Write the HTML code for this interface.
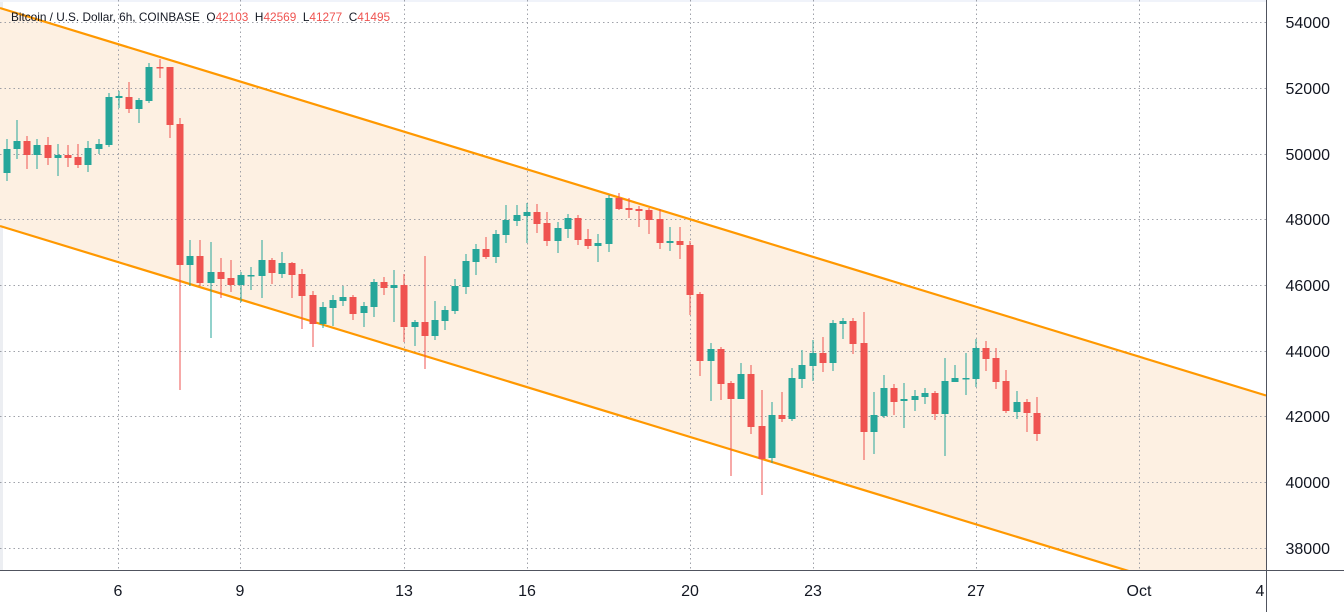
<!DOCTYPE html>
<html><head><meta charset="utf-8"><style>
html,body{margin:0;padding:0;background:#fff;}
svg{display:block;font-family:"Liberation Sans",sans-serif;}
</style></head><body>
<svg id="s" width="1344" height="612" viewBox="0 0 1344 612" xmlns="http://www.w3.org/2000/svg">
<defs><clipPath id="c"><rect x="0" y="0" width="1266" height="570"/></clipPath></defs>
<rect x="0" y="0" width="1344" height="612" fill="#fff"/>
<rect x="0" y="0" width="3" height="570" fill="#eceef2"/>
<rect x="0" y="0" width="1266" height="2" fill="#f0f3fa"/>
<g clip-path="url(#c)">
<polygon points="0,8 1266,395.5 1266,570 1125,570 0,226" fill="#fdf0e2"/>
<g id="grid" stroke="#9598a1" stroke-width="1" stroke-dasharray="1.5,3" opacity="0.9"></g>
<line x1="0" y1="8" x2="1266" y2="395.5" stroke="#ff9800" stroke-width="2.2"/>
<line x1="0" y1="226" x2="1266" y2="613" stroke="#ff9800" stroke-width="2.2"/>
<g id="candles"></g>
</g>
<line x1="1266.5" y1="0" x2="1266.5" y2="612" stroke="#50535e" stroke-width="1"/>
<line x1="0" y1="570.5" x2="1344" y2="570.5" stroke="#50535e" stroke-width="1"/>
<g id="labels" font-size="16" fill="#131722"></g>
<text x="11" y="21" font-size="11.8" fill="#131722" style="white-space:pre" xml:space="preserve">Bitcoin / U.S. Dollar, 6h, COINBASE  O<tspan fill="#ef5350">42103</tspan>  H<tspan fill="#ef5350">42569</tspan>  L<tspan fill="#ef5350">41277</tspan>  C<tspan fill="#ef5350">41495</tspan></text>
</svg>
<script>
var ns="http://www.w3.org/2000/svg";
function el(p,t,a,txt){var e=document.createElementNS(ns,t);for(var k in a)e.setAttribute(k,a[k]);if(txt)e.textContent=txt;p.appendChild(e);return e;}
var g=document.getElementById("grid"),L=document.getElementById("labels");
var ys=[22,88,154,219,285,351,416,482,548],pr=[54000,52000,50000,48000,46000,44000,42000,40000,38000];
ys.forEach(function(y,i){el(g,"line",{x1:0,y1:y+.5,x2:1266,y2:y+.5});el(L,"text",{x:1330,y:y+6,"text-anchor":"end"},String(pr[i]));});
var xs=[118,240,404,527,690,813,976,1139],xl=["6","9","13","16","20","23","27","Oct"];
xs.forEach(function(x,i){el(g,"line",{x1:x+.5,y1:0,x2:x+.5,y2:570});el(L,"text",{x:x,y:596,"text-anchor":"middle"},xl[i]);});
el(L,"text",{x:1260,y:596,"text-anchor":"middle"},"4");
var d=[[173,149,139,181],[149,141,120,159],[141,155,136,169],[155,145,139,169],[145,158,137,165],[158,155,144,176],[155,158,145,167],[157,165,144,168],[165,148,141,172],[149,144,139,154],[145,97,93,147],[98,96,91,108],[97,109,82,113],[109,100,98,123],[101,67,63,103],[67,68,59,78],[67,125,67,138],[124,265,118,390],[265,256,240,286],[256,283,240,286],[283,272,242,338],[272,279,258,298],[278,285,260,292],[285,275,272,302],[276,275,267,290],[276,260,240,298],[260,273,258,284],[274,263,252,278],[263,275,262,298],[274,296,269,329],[295,324,291,347],[324,307,302,328],[308,300,295,326],
[301,297,286,306],[297,314,295,320],[313,306,302,327],[307,282,279,317],[282,288,277,295],[288,285,270,322],[285,327,274,342],[327,322,320,346],[322,336,256,369],[336,320,301,340],[321,310,306,330],[311,286,279,314],[287,261,254,294],[262,249,244,275],[249,257,237,259],[257,234,230,263],[235,220,205,243],[221,215,205,226],[216,212,203,243],[212,224,204,233],[223,241,212,246],[241,228,222,253],[229,218,214,238],[218,240,215,245],[239,246,229,249],[246,243,234,262],[244,198,195,252],[198,209,193,210],[208,210,198,218],[209,211,206,227],[210,220,208,234],[219,243,209,249],[243,241,227,251],[241,245,227,259],[245,295,241,315],
[294,361,292,376],[361,349,343,401],[349,384,347,400],[383,399,381,476],[399,374,363,399],[374,427,365,434],[426,459,390,495],[458,415,402,463],[415,419,392,422],[419,378,368,421],[379,365,350,388],[366,353,340,381],[353,363,337,372],[363,323,320,371],[324,321,318,339],[321,344,318,354],[343,432,312,460],[432,415,392,454],[416,388,375,418],[388,402,384,415],[401,399,383,428],[400,396,390,411],[397,393,388,404],[393,414,391,420],[414,381,358,456],[382,378,365,382],[379,378,353,395],[379,348,339,387],[348,359,341,371],[358,382,348,389],[381,411,370,413],[412,402,391,419],[402,413,399,432],[413,434,397,441]];
var C=document.getElementById("candles");
d.forEach(function(v,i){var x=Math.round(6.7+10.2*i);var o=v[0],c=v[1];
 var up=o>c; var col=up?"#26a69a":"#ef5350";
 el(C,"rect",{x:x-0.5,y:v[2],width:1,height:v[3]-v[2],fill:col});
 var t=Math.min(o,c),h=Math.max(1.5,Math.abs(o-c));
 el(C,"rect",{x:x-3.5,y:t,width:7,height:h,fill:col});
});
</script>
</body></html>
